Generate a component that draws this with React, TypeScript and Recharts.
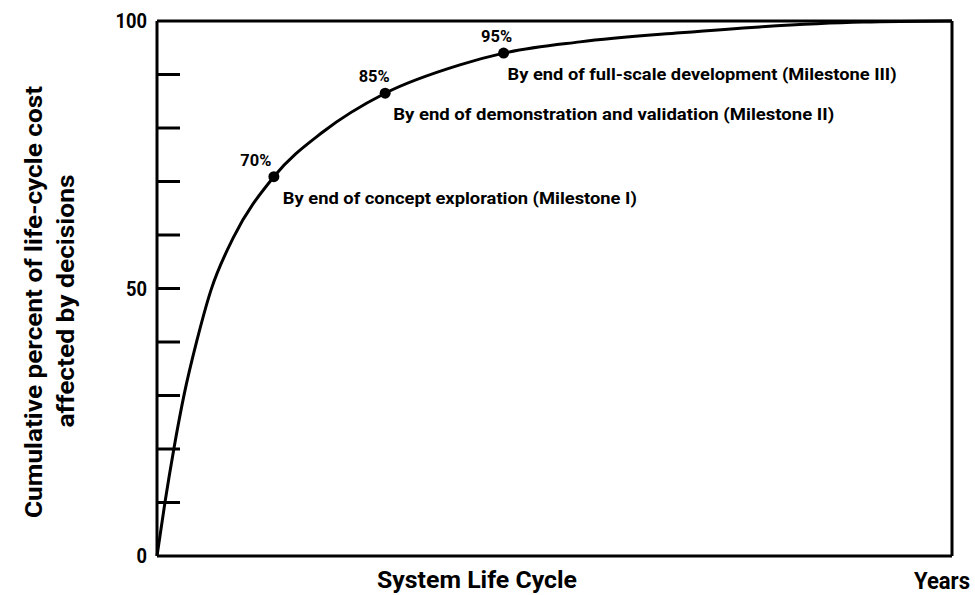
import { ComposedChart, Line, Scatter, XAxis, YAxis, ReferenceLine, Label } from "recharts";

// position along the system life cycle (0 = start, 100 = end of "Years")
const lifeCyclePos = [0, 1.0, 2.14, 3.43, 4.99, 6.79, 9.6, 14.7, 20.9, 28.7, 38.1, 43.6, 53.2, 65.8, 75.8, 88.8, 100];
// cumulative percent of life-cycle cost affected by decisions
const cumulativePct = [0, 10, 20.2, 30.3, 40.1, 49.7, 59.5, 70.9, 79.3, 86.5, 91.8, 94.0, 96.1, 97.8, 98.9, 99.8, 100];

const milestoneIdx = [7, 9, 11];
const milestonePct = ["70%", "85%", "95%"];
const milestoneNotes = [
  "By end of concept exploration (Milestone I)",
  "By end of demonstration and validation (Milestone II)",
  "By end of full-scale development (Milestone III)",
];

const yTicks = [0, 10, 20, 30, 40, 50, 60, 70, 80, 90, 100];
const yTickLabels = ["0", "", "", "", "", "50", "", "", "", "", "100"];

// layout only (pixel offsets / widths of the annotation texts)
const pctDx = [-18, -11, -7];
const noteDx = [9, 8, 4];
const noteWidth = [354, 441, 389];

const FONT = "Roboto, 'Liberation Sans', sans-serif";
const INK = "#000";

const curve = lifeCyclePos.map((x, i) => ({ x, y: cumulativePct[i] }));
const milestones = milestoneIdx.map((idx, i) => ({
  x: lifeCyclePos[idx],
  y: cumulativePct[idx],
  k: i,
}));

const YTick = (props: any) => {
  const { x, y, payload } = props;
  const lbl = yTickLabels[yTicks.indexOf(payload.value)];
  return (
    <g>
      {payload.value !== 0 && payload.value !== 100 && (
        <line x1={x} x2={x + 23} y1={y} y2={y} stroke={INK} strokeWidth={3} />
      )}
      {lbl && (
        <text
          x={x - 10}
          y={y}
          textAnchor="end"
          dominantBaseline="central"
          fontFamily={FONT}
          fontWeight="bold"
          fontSize={21}
          textLength={lbl.length * 10.5}
          lengthAdjust="spacingAndGlyphs"
          fill={INK}
        >
          {lbl}
        </text>
      )}
    </g>
  );
};

const MilestoneShape = (props: any) => {
  const { cx, cy, payload } = props;
  const k = payload.k;
  return (
    <g>
      <circle cx={cx} cy={cy} r={5.5} fill={INK} />
      <text
        x={cx + pctDx[k]}
        y={cy - 17}
        textAnchor="middle"
        dominantBaseline="central"
        fontFamily={FONT}
        fontWeight="bold"
        fontSize={17}
        textLength={31}
        lengthAdjust="spacingAndGlyphs"
        fill={INK}
      >
        {milestonePct[k]}
      </text>
      <text
        x={cx + noteDx[k]}
        y={cy + 21}
        dominantBaseline="central"
        fontFamily={FONT}
        fontWeight="bold"
        fontSize={17}
        textLength={noteWidth[k]}
        lengthAdjust="spacingAndGlyphs"
        fill={INK}
      >
        {milestoneNotes[k]}
      </text>
    </g>
  );
};

const YTitle = () => (
  <g fontFamily={FONT} fontWeight="bold" fontSize={23} fill={INK}>
    <text
      x={34}
      y={302}
      textAnchor="middle"
      dominantBaseline="central"
      textLength={432}
      lengthAdjust="spacingAndGlyphs"
      transform="rotate(-90, 34, 302)"
    >
      Cumulative percent of life-cycle cost
    </text>
    <text
      x={66}
      y={301}
      textAnchor="middle"
      dominantBaseline="central"
      textLength={253}
      lengthAdjust="spacingAndGlyphs"
      transform="rotate(-90, 66, 301)"
    >
      affected by decisions
    </text>
  </g>
);

const XTitle = () => (
  <g fontFamily={FONT} fontWeight="bold" fontSize={23} fill={INK}>
    <text x={377} y={588} textLength={200} lengthAdjust="spacingAndGlyphs">
      System Life Cycle
    </text>
    <text x={914} y={589} textLength={56} lengthAdjust="spacingAndGlyphs">
      Years
    </text>
  </g>
);

export default function App() {
  return (
    <div style={{ position: "absolute", left: 0, top: 0, background: "#fff" }}>
      <ComposedChart width={975} height={595} data={curve} margin={{ top: 21, right: 23, bottom: 0, left: 97 }}>
        <XAxis
          dataKey="x"
          type="number"
          domain={[0, 100]}
          ticks={[]}
          height={39}
          axisLine={{ stroke: INK, strokeWidth: 3 }}
          tickLine={false}
        >
          <Label content={XTitle} />
        </XAxis>
        <YAxis
          type="number"
          domain={[0, 100]}
          ticks={yTicks}
          width={60}
          tickSize={0}
          tickMargin={0}
          tickLine={false}
          tick={YTick}
          axisLine={{ stroke: INK, strokeWidth: 3 }}
          interval={0}
        >
          <Label content={YTitle} />
        </YAxis>
        <ReferenceLine y={100} stroke={INK} strokeWidth={3} />
        <ReferenceLine x={100} stroke={INK} strokeWidth={3} />
        <Line
          dataKey="y"
          type="monotone"
          stroke={INK}
          strokeWidth={3}
          dot={false}
          activeDot={false}
          isAnimationActive={false}
        />
        <Scatter data={milestones} dataKey="y" shape={MilestoneShape} isAnimationActive={false} />
      </ComposedChart>
    </div>
  );
}
